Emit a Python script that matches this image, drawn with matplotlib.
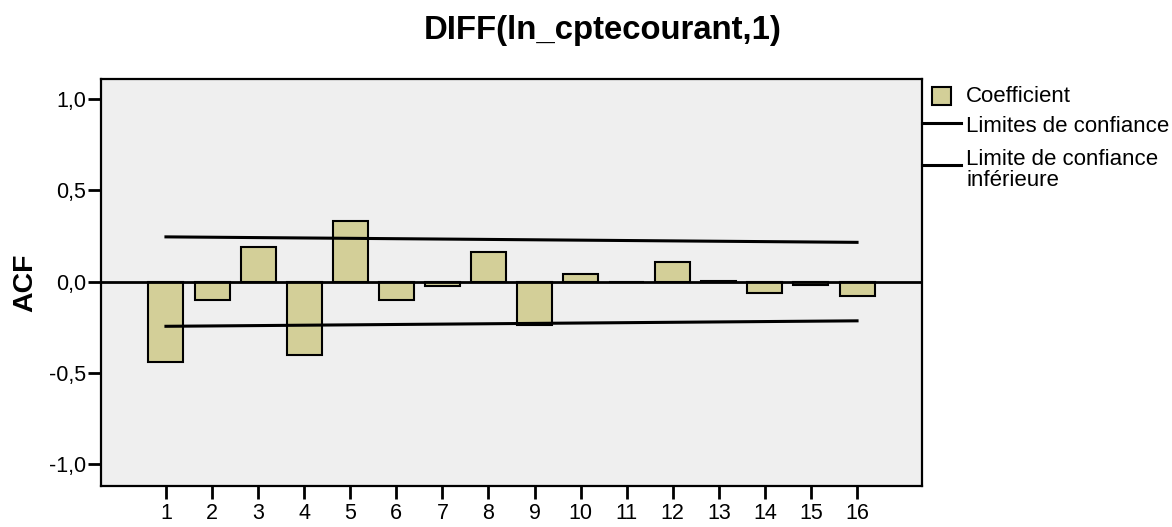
import matplotlib
matplotlib.use('Agg')
import matplotlib.pyplot as plt
from matplotlib.lines import Line2D
from matplotlib.patches import Rectangle

plt.rcParams['font.family'] = ['Liberation Sans', 'DejaVu Sans']

# ACF values
lags = list(range(1, 17))
acf = [-0.44, -0.10, 0.19, -0.40, 0.33, -0.10, -0.025, 0.16,
       -0.24, 0.04, 0.0, 0.11, 0.004, -0.06, -0.02, -0.08]
upper_limit = [0.245, 0.243, 0.241, 0.239, 0.237, 0.235, 0.233, 0.231,
               0.229, 0.227, 0.225, 0.223, 0.221, 0.219, 0.217, 0.215]
lower_limit = [-0.245, -0.243, -0.241, -0.239, -0.237, -0.235, -0.233, -0.231,
               -0.229, -0.227, -0.225, -0.223, -0.221, -0.219, -0.217, -0.215]
yticks = [-1.0, -0.5, 0.0, 0.5, 1.0]
ytick_labels = ['-1,0', '-0,5', '0,0', '0,5', '1,0']

bar_color = '#d3cf98'
W, H = 1172, 527

fig = plt.figure(figsize=(W / 100, H / 100), dpi=100)
ax = fig.add_axes([101 / W, 1 - 486 / H, (922 - 101) / W, (486 - 79) / H])
ax.set_facecolor('#efefef')

ax.bar(lags, acf, width=0.76, color=bar_color, edgecolor='black', linewidth=1.5, zorder=2)
ax.axhline(0, color='black', linewidth=2, zorder=3)
ax.plot(lags, upper_limit, color='black', linewidth=2.2, zorder=4)
ax.plot(lags, lower_limit, color='black', linewidth=2.2, zorder=4)

ax.set_xlim(-0.41, 17.41)
ax.set_ylim(-1.12, 1.11)
ax.set_xticks(lags)
ax.set_xticklabels([str(l) for l in lags])
ax.set_yticks(yticks)
ax.set_yticklabels(ytick_labels)
ax.tick_params(axis='both', direction='out', length=9.5, width=2, labelsize=15.5)
ax.tick_params(axis='y', pad=1)
ax.tick_params(axis='x', pad=2.5)
for s in ax.spines.values():
    s.set_linewidth(1.6)

ax.set_ylabel('ACF', fontsize=20.5, fontweight='bold', labelpad=8)
fig.text(603 / W, 1 - 30 / H, 'DIFF(ln_cptecourant,1)', fontsize=23.7,
         fontweight='bold', ha='center', va='center')

# legend drawn by hand, outside the plot area
fig.patches.append(Rectangle((932 / W, 1 - 105 / H), 19 / W, 18 / H, transform=fig.transFigure,
                             facecolor=bar_color, edgecolor='black', linewidth=1.5))
fig.lines.append(Line2D([922 / W, 961 / W], [1 - 123 / H, 1 - 123 / H],
                        transform=fig.transFigure, color='black', linewidth=2.2))
fig.lines.append(Line2D([922 / W, 961 / W], [1 - 165 / H, 1 - 165 / H],
                        transform=fig.transFigure, color='black', linewidth=2.2))
fig.text(966 / W, 1 - 97 / H, 'Coefficient', fontsize=16, va='center')
fig.text(966 / W, 1 - 127 / H, 'Limites de confiance', fontsize=16, va='center')
fig.text(966 / W, 1 - 170 / H, 'Limite de confiance\ninférieure', fontsize=16,
         va='center', linespacing=1.0)

fig.savefig('out.png', dpi=100)
